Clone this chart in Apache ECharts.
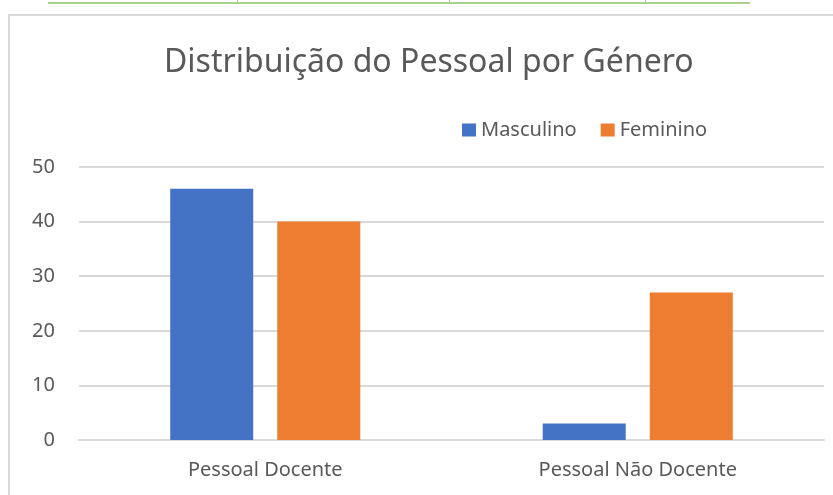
<!DOCTYPE html>
<html><head><meta charset="utf-8">
<script src="https://cdn.jsdelivr.net/npm/echarts@6/dist/echarts.min.js"></script>
<style>
html,body{margin:0;padding:0;background:#fff;width:833px;height:495px;overflow:hidden;position:relative}
#frame{position:absolute;left:8px;top:14px;width:840px;height:500px;border:2px solid #d9d9d9;box-sizing:border-box}
#green{position:absolute;left:48px;top:2px;width:702px;height:2px;background:#a9d18e}
.tick{position:absolute;top:0;width:1px;height:3px;background:#a9d18e}
#chart{position:absolute;left:0;top:0;width:833px;height:495px}
</style></head>
<body>
<div id="green"></div>
<div class="tick" style="left:237px"></div>
<div class="tick" style="left:449px"></div>
<div class="tick" style="left:645px"></div>
<div id="frame"></div>
<div id="chart"></div>
<script>
const categories = ["Pessoal Docente", "Pessoal Não Docente"];
const masculino = [46, 3];
const feminino = [40, 27];
const yTicks = [0, 10, 20, 30, 40, 50];

const chart = echarts.init(document.getElementById('chart'));
const font = "'Noto Sans', 'Open Sans', sans-serif";
chart.setOption({
  animation: false,
  title: {
    text: "Distribuição do Pessoal por Género",
    left: 159, top: 42,
    textStyle: {fontFamily: font, fontSize: 32, fontWeight: 'normal', color: '#595959'}
  },
  legend: {
    top: 115, left: 457,
    itemWidth: 14, itemHeight: 13, itemGap: 24,
    icon: 'rect',
    textStyle: {fontFamily: font, fontSize: 20, color: '#595959'},
    data: ['Masculino', 'Feminino']
  },
  grid: {left: 79, right: 9, top: 167, bottom: 55},
  xAxis: {
    type: 'category', data: categories,
    axisTick: {show: false},
    axisLine: {lineStyle: {color: '#d9d9d9', width: 2}},
    axisLabel: {fontFamily: font, fontSize: 20, color: '#595959', margin: 20}
  },
  yAxis: {
    type: 'value', min: yTicks[0], max: yTicks[yTicks.length-1], interval: 10,
    axisLine: {show: false}, axisTick: {show: false},
    splitLine: {lineStyle: {color: '#d9d9d9', width: 2}},
    axisLabel: {fontFamily: font, fontSize: 20, color: '#595959', margin: 24, align: 'right'}
  },
  series: [
    {name: 'Masculino', type: 'bar', data: masculino, barWidth: 83, barGap: '29%',
     itemStyle: {color: '#4472c4'}},
    {name: 'Feminino', type: 'bar', data: feminino, barWidth: 83,
     itemStyle: {color: '#ed7d31'}}
  ]
});
</script>
</body></html>
